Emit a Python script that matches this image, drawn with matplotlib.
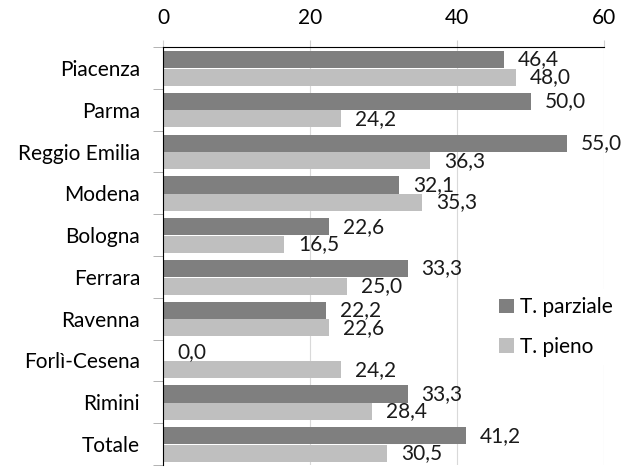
import matplotlib
matplotlib.use("Agg")
import matplotlib.pyplot as plt
import numpy as np

plt.rcParams['font.family'] = ['Lato', 'DejaVu Sans']

province = ['Piacenza', 'Parma', 'Reggio Emilia', 'Modena', 'Bologna',
            'Ferrara', 'Ravenna', 'Forlì-Cesena', 'Rimini', 'Totale']
parziale = [46.4, 50.0, 55.0, 32.1, 22.6, 33.3, 22.2, 0.0, 33.3, 41.2]
pieno = [48.0, 24.2, 36.3, 35.3, 16.5, 25.0, 22.6, 24.2, 28.4, 30.5]
xticks = [0, 20, 40, 60]

c_parz = '#7f7f7f'
c_pieno = '#bfbfbf'
fs = 15

fig = plt.figure(figsize=(6.29, 4.68), dpi=100)
ax = fig.add_axes([163 / 629, 3 / 468, 441 / 629, 418 / 468])

y = np.arange(len(province))
h = 0.41
b1 = ax.barh(y - 0.2, parziale, height=h, color=c_parz, label='T. parziale', zorder=2)
b2 = ax.barh(y + 0.22, pieno, height=h, color=c_pieno, label='T. pieno', zorder=2)

def fmt(v):
    return ('%.1f' % v).replace('.', ',')

for bars, vals in ((b1, parziale), (b2, pieno)):
    ax.bar_label(bars, labels=[fmt(v) for v in vals], padding=10,
                 fontsize=fs, color='#1a1a1a')

ax.set_xlim(0, 60)
ax.set_ylim(len(province) - 0.5, -0.5)
ax.xaxis.tick_top()
ax.set_xticks(xticks)
ax.set_xticklabels([str(t) for t in xticks], fontsize=fs)
ax.tick_params(axis='x', length=5, color='#d0d0d0', pad=9)
ax.grid(axis='x', color='#d9d9d9', linewidth=0.8, zorder=0)

ax.set_yticks(y)
ax.set_yticklabels(province, fontsize=fs)
ax.set_yticks(np.arange(len(province) + 1) - 0.5, minor=True)
ax.tick_params(axis='y', which='major', length=0, pad=16.5)
ax.tick_params(axis='y', which='minor', length=7, color='#a6a6a6')

for s in ('right', 'bottom'):
    ax.spines[s].set_visible(False)
ax.spines['top'].set_color('black')
ax.spines['left'].set_color('black')

leg = ax.legend(loc='center left', bbox_to_anchor=(0.72, 0.33), frameon=True,
                fontsize=fs, handlelength=0.7, handleheight=0.7, handletextpad=0.3,
                labelspacing=0.95, borderpad=0.4)
leg.get_frame().set_edgecolor('none')
leg.get_frame().set_facecolor('white')
leg.get_frame().set_alpha(1)

fig.savefig('out.png', dpi=100)
